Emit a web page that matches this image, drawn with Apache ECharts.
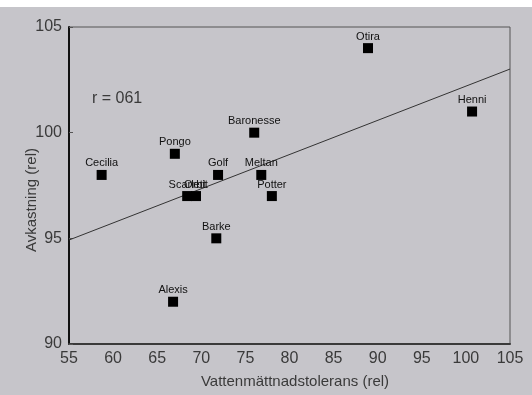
<!DOCTYPE html>
<html>
<head>
<meta charset="utf-8">
<script src="https://cdn.jsdelivr.net/npm/echarts@6/dist/echarts.min.js"></script>
<style>
  html, body { margin: 0; padding: 0; background: #c6c5ca; }
  #strip { position: absolute; left: 0; top: 0; width: 532px; height: 7px; background: #ffffff; }
  #chart { width: 532px; height: 395px; }
</style>
</head>
<body>
<div id="chart"></div>
<div id="strip"></div>
<script>
// Cultivars: water-logging tolerance vs. yield (both relative)
const cultivars = ['Otira', 'Henni', 'Baronesse', 'Pongo', 'Cecilia', 'Golf', 'Meltan',
                   'Potter', 'Scarlett', 'Orbit', 'Barke', 'Alexis'];
const tolerance = [88.9, 100.7, 76.0, 67.0, 58.7, 71.9, 76.8, 78.0, 68.4, 69.4, 71.7, 66.8];
const yieldRel  = [104.0, 101.0, 100.0, 99.0, 98.0, 98.0, 98.0, 97.0, 97.0, 97.0, 95.0, 92.0];

// Fitted regression line, end points
const fitX = [55, 105];
const fitY = [94.92, 103.01];

const xTicks = { min: 55, max: 105, step: 5 };
const yTicks = { min: 90, max: 105, step: 5 };

const chart = echarts.init(document.getElementById('chart'), null, { renderer: 'canvas' });

const font = '"Liberation Sans", Arial, sans-serif';

chart.setOption({
  backgroundColor: '#c6c5ca',
  animation: false,
  grid: { left: 69, right: 22, top: 27, bottom: 51, show: true, borderColor: '#555', borderWidth: 1, backgroundColor: 'transparent' },
  xAxis: {
    type: 'value',
    min: xTicks.min, max: xTicks.max, interval: xTicks.step,
    axisLine: { show: true, lineStyle: { color: '#3a3a3a', width: 2 } },
    axisTick: { show: false },
    splitLine: { show: false },
    axisLabel: { color: '#3a3a3a', fontSize: 16, fontFamily: font, margin: 7 }
  },
  yAxis: {
    type: 'value',
    min: yTicks.min, max: yTicks.max, interval: yTicks.step,
    axisLine: { show: true, lineStyle: { color: '#111', width: 2 } },
    axisTick: { show: true, inside: true, length: 4, lineStyle: { color: '#555', width: 1 } },
    splitLine: { show: false },
    axisLabel: { color: '#3a3a3a', fontSize: 16, fontFamily: font, margin: 7 }
  },
  graphic: [
    {
      type: 'text', left: 92, top: 91,
      style: { text: 'r = 061', fontSize: 16, fontFamily: font, fill: '#3a3a3a' }
    },
    {
      type: 'text', x: 295, y: 382,
      style: { text: 'Vattenmättnadstolerans (rel)', fontSize: 15, fontFamily: font, fill: '#3a3a3a',
               textAlign: 'center', textVerticalAlign: 'middle' }
    },
    {
      type: 'text', x: 32, y: 200, rotation: Math.PI / 2,
      style: { text: 'Avkastning (rel)', fontSize: 15, fontFamily: font, fill: '#3a3a3a',
               textAlign: 'center', textVerticalAlign: 'middle' }
    }
  ],
  series: [
    {
      type: 'line',
      data: fitX.map((x, i) => [x, fitY[i]]),
      showSymbol: false,
      silent: true,
      lineStyle: { color: '#333', width: 1 },
      z: 1
    },
    {
      type: 'scatter',
      symbol: 'rect',
      symbolSize: 10,
      itemStyle: { color: '#000', opacity: 1 },
      data: cultivars.map((n, i) => ({ name: n, value: [tolerance[i], yieldRel[i]] })),
      label: {
        show: true, position: 'top', distance: 1,
        formatter: p => p.name,
        fontSize: 11, fontFamily: font, color: '#111'
      },
      labelLayout: { hideOverlap: false },
      z: 2
    }
  ]
});
</script>
</body>
</html>
